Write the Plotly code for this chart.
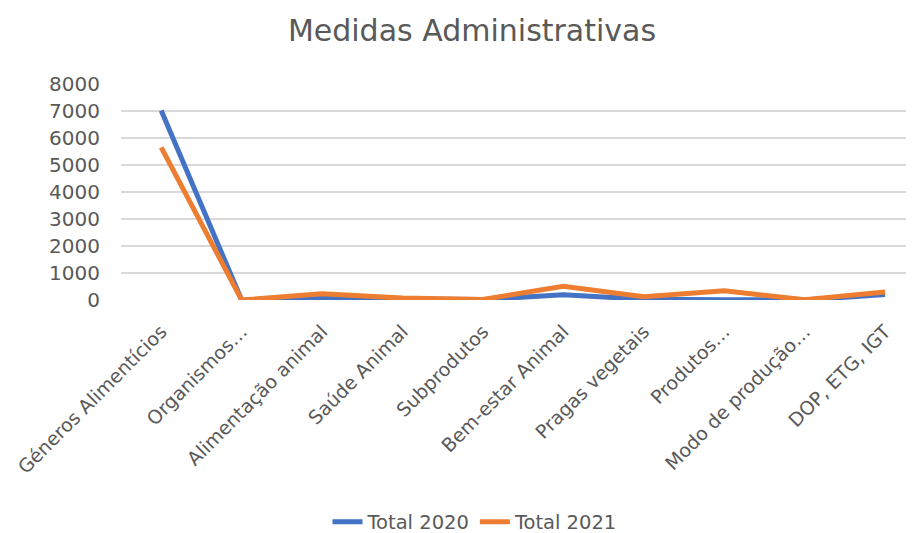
import plotly.graph_objects as go

categories = ["Géneros Alimentícios", "Organismos…", "Alimentação animal", "Saúde Animal",
              "Subprodutos", "Bem-estar Animal", "Pragas vegetais", "Produtos…",
              "Modo de produção…", "DOP, ETG, IGT"]
total_2020 = [7020, 0, 60, 30, 20, 190, 30, 10, 0, 200]
total_2021 = [5650, 0, 230, 70, 20, 510, 120, 340, 10, 300]

FONT = "DejaVu Sans"
TXT = "#595959"

# The page adds an 8px body margin, so the figure is 8px smaller and offsets are shifted.
W, H = 906, 525

fig = go.Figure()
fig.add_trace(go.Scatter(x=categories, y=total_2020, mode="lines", name="Total 2020",
                         line=dict(color="#4472C4", width=5)))
fig.add_trace(go.Scatter(x=categories, y=total_2021, mode="lines", name="Total 2021",
                         line=dict(color="#ED7D31", width=5)))

fig.update_layout(
    width=W, height=H,
    paper_bgcolor="white", plot_bgcolor="white",
    margin=dict(l=113, r=0, t=76, b=233, autoexpand=False),
    font=dict(family=FONT, color=TXT),
    title=dict(text="Medidas Administrativas", font=dict(size=30, color=TXT, family=FONT),
               x=464 / W, xref="container", xanchor="center",
               y=1 - 22 / H, yref="container", yanchor="middle"),
    showlegend=True,
    legend=dict(orientation="h", x=467 / W, xref="container", xanchor="center",
                y=11 / H, yref="container", yanchor="middle",
                font=dict(size=19.5, color=TXT, family=FONT)),
)
fig.update_xaxes(type="category", range=[-0.5, 9.36], showgrid=False, zeroline=False,
                 showline=False, tickangle=-45, ticks="outside", ticklen=12, automargin=False,
                 tickcolor="rgba(0,0,0,0)", tickfont=dict(size=19, color=TXT, family=FONT))
fig.update_yaxes(range=[0, 8000], dtick=1000, showgrid=True, gridcolor="#D9D9D9",
                 gridwidth=1.5, zeroline=False, showline=False, ticks="outside", ticklen=16,
                 automargin=False,
                 tickcolor="rgba(0,0,0,0)", tickfont=dict(size=20, color=TXT, family=FONT))

fig.write_html("out.html")
